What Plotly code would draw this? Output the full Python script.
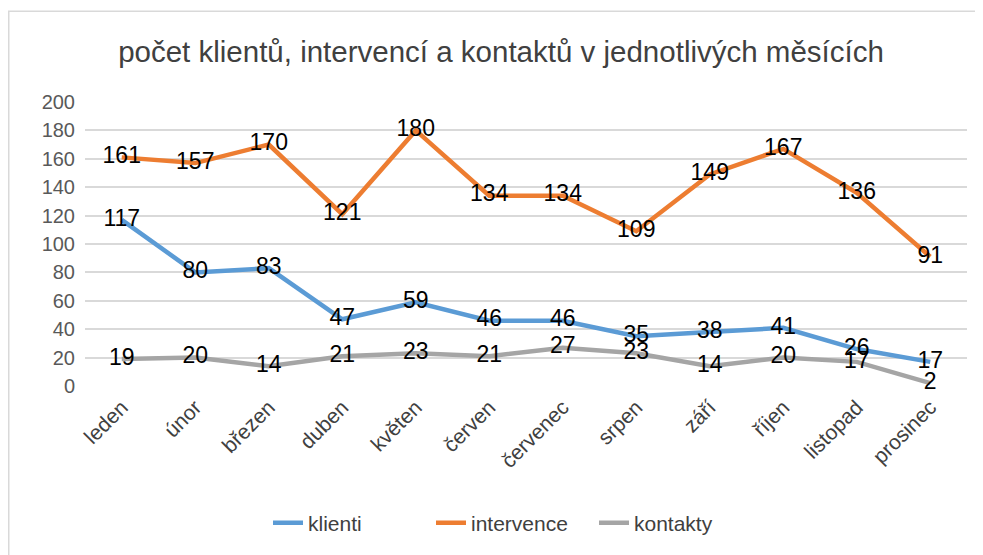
import plotly.graph_objects as go

months = ["leden", "únor", "březen", "duben", "květen", "červen", "červenec",
          "srpen", "září", "říjen", "listopad", "prosinec"]
klienti = [117, 80, 83, 47, 59, 46, 46, 35, 38, 41, 26, 17]
intervence = [161, 157, 170, 121, 180, 134, 134, 109, 149, 167, 136, 91]
kontakty = [19, 20, 14, 21, 23, 21, 27, 23, 14, 20, 17, 2]
y_ticks = list(range(0, 201, 20))

FONT = "Liberation Sans, Arial, sans-serif"
series = [("klienti", klienti, "#5B9BD5"),
          ("intervence", intervence, "#ED7D31"),
          ("kontakty", kontakty, "#A5A5A5")]

fig = go.Figure()
for name, vals, col in series:
    fig.add_trace(go.Scatter(
        x=months, y=vals, name=name, mode="lines+text",
        line=dict(color=col, width=4.5),
        text=[str(v) for v in vals], textposition="middle center",
        textfont=dict(family=FONT, size=23, color="#000000"),
        cliponaxis=False,
    ))

# page body has an 8px margin; compensate so the page matches pixel positions
OFF = 8
W, H = 983 - OFF, 555 - OFF
L, R, T, B = 85 - OFF, 983 - 967, 102 - OFF, 555 - 388
pw, ph = W - L - R, H - T - B

fig.update_layout(
    width=W, height=H,
    margin=dict(l=L, r=R, t=T, b=B),
    paper_bgcolor="white", plot_bgcolor="white",
    font=dict(family=FONT, color="#595959"),
    title=dict(text="počet klientů, intervencí a kontaktů v jednotlivých měsících",
               x=(501 - OFF) / W, xref="container", xanchor="center",
               y=1 - (52 - OFF) / H, yref="container", yanchor="middle",
               font=dict(family=FONT, size=29.5, color="#404040")),
    showlegend=True,
    legend=dict(orientation="h", x=(273 - 5 - OFF - L) / pw, xanchor="left",
                y=-(526 - 388) / ph, yanchor="middle",
                font=dict(family=FONT, size=21, color="#404040"),
                entrywidth=118, entrywidthmode="pixels",
                traceorder="normal"),
    xaxis=dict(type="category", range=[-0.5, 11.5], tickangle=-45,
               tickfont=dict(family=FONT, size=21, color="#404040"),
               showgrid=False, showline=False, ticks="", zeroline=False,
               ticklabelstandoff=4),
    yaxis=dict(range=[0, 200], tickvals=y_ticks,
               tickfont=dict(family=FONT, size=20, color="#595959"),
               showgrid=True, gridcolor="#D9D9D9", gridwidth=1.5,
               zeroline=False, showline=False, ticks="", ticklen=0,
               ticklabelstandoff=9),
    shapes=[dict(type="rect", xref="paper", yref="paper",
                 x0=(0.75 - L) / pw, x1=(W + 20 - L) / pw,
                 y0=-(H + 20 - (H - B)) / ph, y1=1 + (T - (10.5 - OFF)) / ph,
                 line=dict(color="#D9D9D9", width=1.5), layer="below")],
)

fig.write_html("out.html")
